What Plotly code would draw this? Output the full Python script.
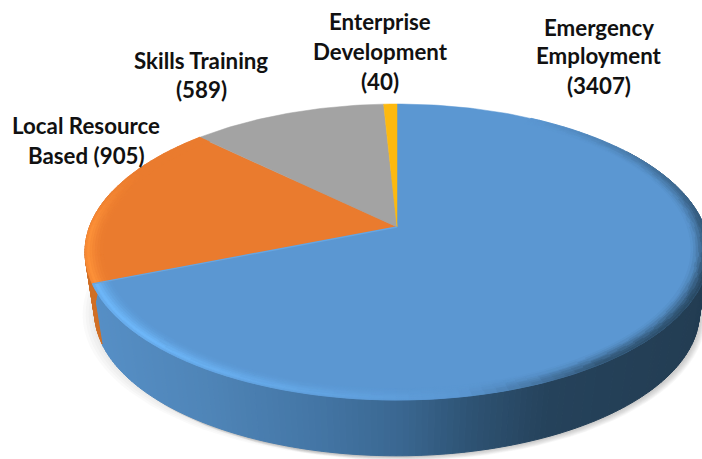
import math
import plotly.graph_objects as go

categories = ["Emergency Employment", "Local Resource Based", "Skills Training", "Enterprise Development"]
values = [3407, 905, 589, 40]
colors = ["#5b97d2", "#ea7b2e", "#a3a3a3", "#fdb90f"]
label_lines = [
    ["Emergency", "Employment", "(3407)"],
    ["Local Resource", "Based (905)"],
    ["Skills Training", "(589)"],
    ["Enterprise", "Development", "(40)"],
]
label_x = [599, 86, 201, 380]
label_y = [[27, 55, 85], [125, 155], [60, 89], [21, 51, 81]]

W, H = 702, 459
CX, CY, RX, RY, DEPTH, BASE = 397, 252, 312, 148, 62, 0.97
A = 0.169  # perspective shift of the pie centre


def project(theta, s=1.0):
    u, v = s * math.sin(theta), s * math.cos(theta)
    d = 1 + A * v
    xn = u * math.sqrt(1 - A * A) / d
    yn = (v + A) / d
    return CX + RX * xn, CY - RY * yn


def base_pt(theta):
    x, y = project(theta, BASE)
    return x, y + DEPTH


def frange(a, b, step):
    n = max(2, int(abs(b - a) / step) + 1)
    return [a + (b - a) * i / (n - 1) for i in range(n)]


def hex2rgb(c):
    return tuple(int(c[i:i + 2], 16) for i in (1, 3, 5))


def mix(c1, c2, t):
    a, b = hex2rgb(c1), hex2rgb(c2)
    return "#%02x%02x%02x" % tuple(round(a[i] + (b[i] - a[i]) * t) for i in range(3))


def ramp(stops, x):
    if x <= stops[0][0]:
        return stops[0][1]
    for (x0, c0), (x1, c1) in zip(stops, stops[1:]):
        if x <= x1:
            return mix(c0, c1, (x - x0) / (x1 - x0))
    return stops[-1][1]


RIM_STOPS = [(90, "#568fc6"), (200, "#4f85b8"), (320, "#4375a4"), (400, "#3a6791"),
             (470, "#2e5374"), (550, "#25425b"), (702, "#233d53")]

total = sum(values)
edges = [0.0]
for val in values:
    edges.append(edges[-1] + val / total * 2 * math.pi)

fig = go.Figure()


def poly(xs, ys, fill, line=None, width=0.0):
    fig.add_trace(go.Scatter(x=xs, y=ys, mode="lines", fill="toself", fillcolor=fill,
                             line=dict(color=line or fill, width=width),
                             hoverinfo="skip", showlegend=False))


# soft ground shadow
full = frange(0, 2 * math.pi, math.radians(3))
for off in [9, 8, 7, 6, 5, 4, 3, 2]:
    pts = [base_pt(t) for t in full]
    poly([p[0] + off * 0.7 for p in pts], [p[1] + off * 0.55 for p in pts], "rgba(90,90,90,0.045)")
for off in [12, 9, 6, 3]:
    pts = [base_pt(t) for t in full]
    poly([p[0] - off for p in pts], [p[1] + off * 0.2 for p in pts], "rgba(90,90,90,0.03)")

# side wall, split into strips so its shade follows the horizontal position
buckets = {}


def add_quad(color, pts):
    bx, by = buckets.setdefault(color, ([], []))
    for p in pts + [pts[0]]:
        bx.append(p[0])
        by.append(p[1])
    bx.append(None)
    by.append(None)


step = math.radians(1)
ts = frange(math.radians(55), edges[1], step)
for a, b in zip(ts, ts[1:]):
    pa, pb = project(a), project(b)
    col = ramp(RIM_STOPS, (pa[0] + pb[0]) / 2)
    add_quad(col, [pa, pb, base_pt(b), base_pt(a)])
ts = frange(edges[1], math.radians(285), step)
for a, b in zip(ts, ts[1:]):
    add_quad("#d06f26", [project(a), project(b), base_pt(b), base_pt(a)])
for col, (bx, by) in buckets.items():
    poly(bx, by, col, col, 1.0)

# top faces
for i in range(len(values)):
    arc = frange(edges[i], edges[i + 1], math.radians(1))
    pts = [project(0, 0)] + [project(t) for t in arc] + [project(0, 0)]
    poly([p[0] for p in pts], [p[1] for p in pts], colors[i], colors[i], 0.5)

LIGHT = [0.7, 1.0, 0.8, 0.55, 0.35, 0.18, 0.07]
DARK = [1.0, 0.9, 0.72, 0.52, 0.33, 0.17, 0.06]


# bevel around the outer edge of the top
def edge_blue(t):
    d = math.degrees(t)
    if d >= 225:
        return "#6db6f8", 1.0, LIGHT
    if d >= 185:
        return "#6db6f8", 0.3 + 0.7 * (d - 185) / 40, LIGHT
    if d >= 170:
        return "#6db6f8", 0.3 * (d - 170) / 15, LIGHT
    if d >= 145:
        return "#27465f", 0.8 * (170 - d) / 25, DARK
    if d >= 105:
        return "#27465f", 0.8 + 0.2 * (145 - d) / 40, DARK
    if d >= 30:
        return "#27465f", (d - 30) / 75, DARK
    return "#27465f", 0.0, DARK


def edge_orange(t):
    d = math.degrees(t)
    return "#fc9038", max(0.0, min(1.0, (295 - d) / 25)), LIGHT


buckets = {}
rings = [1.0, 0.992, 0.984, 0.976, 0.968, 0.96, 0.952, 0.944]
step = math.radians(2)
for seg0, seg1, base, fn in [(math.radians(30), edges[1], colors[0], edge_blue),
                             (edges[1], edges[2], colors[1], edge_orange)]:
    ts = frange(seg0, seg1, step)
    for a, b in zip(ts, ts[1:]):
        ec, w, prof = fn((a + b) / 2)
        for j in range(len(rings) - 1):
            col = mix(base, ec, w * prof[j])
            add_quad(col, [project(a, rings[j]), project(b, rings[j]),
                           project(b, rings[j + 1]), project(a, rings[j + 1])])
for col, (bx, by) in buckets.items():
    poly(bx, by, col, col, 0.8)

# light line along the blue face's edge next to the orange slice
p0, p1 = project(0, 0), project(edges[1])
fig.add_trace(go.Scatter(x=[p0[0], p1[0]], y=[p0[1], p1[1]], mode="lines",
                         line=dict(color="#62a6e6", width=1.4),
                         hoverinfo="skip", showlegend=False))

for lines, lx, lys in zip(label_lines, label_x, label_y):
    for text, ly in zip(lines, lys):
        fig.add_annotation(x=lx, y=ly, text="<b>%s</b>" % text, showarrow=False,
                           xanchor="center", yanchor="middle",
                           font=dict(family="Lato", size=22.3, color="#111111"))

fig.update_layout(
    width=W, height=H, margin=dict(l=0, r=0, t=0, b=0),
    paper_bgcolor="white", plot_bgcolor="white", showlegend=False,
    xaxis=dict(range=[0, W], visible=False, fixedrange=True),
    yaxis=dict(range=[H, 0], visible=False, fixedrange=True),
)
fig.write_html("out.html", config={"displayModeBar": False},
               post_script="document.body.style.margin='0';document.body.style.overflow='hidden';")
